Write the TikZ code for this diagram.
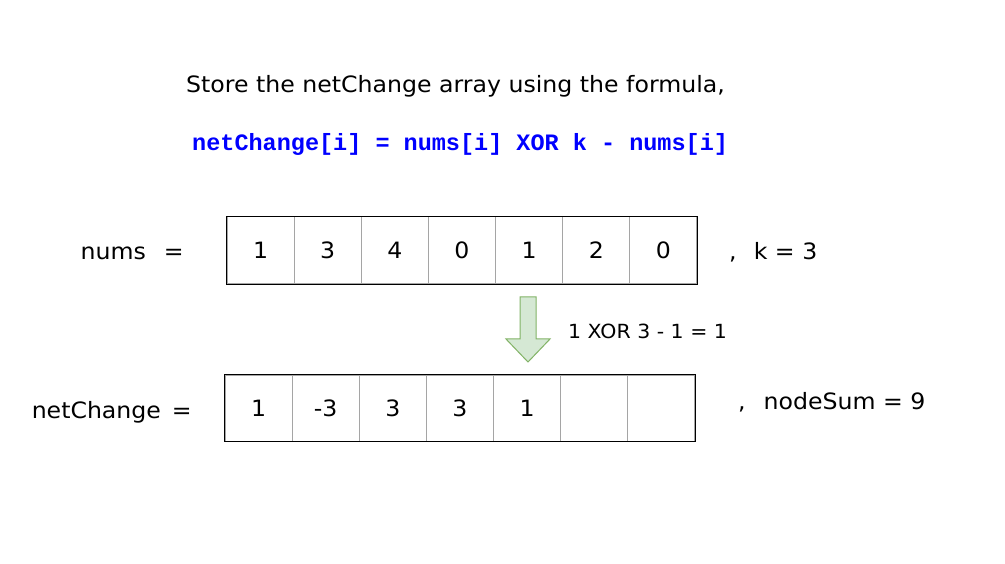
\documentclass[tikz,border=0pt]{standalone}
\usepackage{fontspec}
\setmainfont{DejaVu Sans}[FakeStretch=1.05]
\setmonofont{Liberation Mono}
\usetikzlibrary{positioning}
\definecolor{arrowfill}{RGB}{213,232,212}
\definecolor{arrowdraw}{RGB}{130,179,102}
\definecolor{cellgray}{RGB}{165,165,165}

\begin{document}
\begin{tikzpicture}[x=1pt,y=-1pt,
  txt/.style={inner sep=0pt,font=\fontsize{22.5}{27}\selectfont},
  small/.style={inner sep=0pt,font=\fontsize{19.5}{23}\selectfont},
  cell/.style={draw=cellgray,line width=1pt,minimum width=67.14pt,minimum height=67pt,inner sep=0pt,font=\fontsize{22.5}{27}\selectfont}]
\useasboundingbox[fill=white] (0,0) rectangle (1005,564);

\node[txt,anchor=base west] (title) at (186,93) {Store the netChange array using the formula,};
\node[anchor=base west,inner sep=0pt,text=blue,font=\ttfamily\bfseries\fontsize{23.5}{28}\selectfont] (formula) at (192,151) {netChange[i] = nums[i] XOR k - nums[i]};

\foreach \v [count=\i] in {1,3,4,0,1,2,0}
  \node[cell] (a\i) at ({227+67.14*(\i-0.5)},250.5) {\v};
\draw[line width=1.3pt] (a1.north west) rectangle (a7.south east);

\foreach \v [count=\i] in {1,-3,3,3,1,{},{}}
  \node[cell,minimum height=66pt] (b\i) at ({225+67.14*(\i-0.5)},408) {\v};
\draw[line width=1.3pt] (b1.north west) rectangle (b7.south east);

\node[txt,anchor=base east] (numslbl) at (184,260) {nums\hspace{0.8em}=};
\node[txt,anchor=base east] (netlbl) at (192,418) {netChange\hspace{0.49em}=};
\node[txt,anchor=base west] (klbl) at (729,260) {,\hspace{0.76em}k = 3};
\node[txt,anchor=base west] (sumlbl) at (738,409) {,\hspace{0.8em}nodeSum = 9};

\draw[arrowdraw,fill=arrowfill,line width=1pt] (520,297) -- (536,297) -- (536,339) -- (550,339)
  -- (528,362) -- (506,339) -- (520,339) -- cycle;
\node[small,anchor=base west] (step) at (568,338) {1 XOR 3 - 1 = 1};
\end{tikzpicture}
\end{document}
